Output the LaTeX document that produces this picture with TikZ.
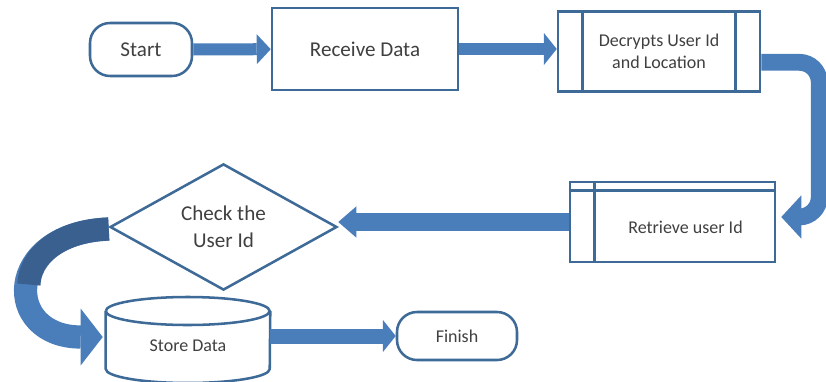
\documentclass[tikz,border=0pt]{standalone}
\usepackage{fontspec}
\setmainfont{Carlito}
\usetikzlibrary{positioning,arrows.meta,shapes.geometric}
\definecolor{flowblue}{RGB}{74,126,187}
\definecolor{flowdark}{RGB}{58,96,143}
\definecolor{edgeblue}{RGB}{62,106,152}
\definecolor{inkgray}{RGB}{64,64,64}
\tikzset{
  flowarrow/.style={draw=flowblue, line width=0.32cm, -{Triangle[length=0.32cm, width=0.8cm, line width=0pt]}},
  boxline/.style={draw=edgeblue, line width=1.8pt},
  bigtext/.style={font=\fontsize{15}{19}\selectfont},
  smalltext/.style={font=\fontsize{12.8}{16}\selectfont},
  terminal/.style={boxline, rounded corners=0.5cm, fill=white, text=inkgray, minimum width=2.55cm, minimum height=1.325cm, align=center},
  process/.style={boxline, fill=white, text=inkgray, align=center},
  decision/.style={diamond, boxline, fill=white, text=inkgray, align=center, inner sep=0pt, minimum width=5.675cm, minimum height=2.75cm},
  storebox/.style={text=inkgray, minimum width=4.1cm, minimum height=2.1cm}
}

\begin{document}
\begin{tikzpicture}
  \useasboundingbox (0,0) rectangle (20.65,-9.525);

  % top row
  \node[terminal, bigtext] (start) at (3.525,-1.2375) {Start};
  \node[process, bigtext, minimum width=4.65cm, minimum height=2.05cm] (receive) at (9.125,-1.225) {Receive Data};
  \node[process, smalltext, minimum width=5.05cm, minimum height=2cm] (decrypt) at (16.475,-1.2875) {Decrypts User Id\\and Location};
  \draw[boxline] ([xshift=0.65cm]decrypt.north west) -- ([xshift=0.65cm]decrypt.south west);
  \draw[boxline] ([xshift=-0.65cm]decrypt.north east) -- ([xshift=-0.65cm]decrypt.south east);

  % middle row
  \node[process, smalltext, minimum width=5.125cm, minimum height=2cm] (retrieve) at (16.8125,-5.55)
    {\raisebox{-0.125cm}[\height][\depth]{\hspace{0.65cm}Retrieve user Id}};
  \draw[boxline] ([yshift=-0.25cm]retrieve.north west) -- ([yshift=-0.25cm]retrieve.north east);
  \draw[boxline] ([xshift=0.65cm]retrieve.north west) -- ([xshift=0.65cm]retrieve.south west);
  \node[decision, bigtext] (check) at (5.5875,-5.675) {Check the\\User Id};

  % bottom row
  \node[storebox, smalltext] (store) at (4.7,-8.65) {Store Data};
  \draw[boxline] ([yshift=0.875cm]store.west) arc[start angle=180, end angle=-180, x radius=2.05cm, y radius=0.35cm];
  \draw[boxline] ([yshift=0.875cm]store.west) -- ([yshift=-0.575cm]store.west)
    arc[start angle=180, end angle=360, x radius=2.05cm, y radius=0.35cm] -- ([yshift=0.875cm]store.east);
  \node[terminal, smalltext, minimum width=3cm, minimum height=1.2cm] (finish) at (11.425,-8.4) {Finish};

  % connectors
  \draw[flowarrow, line width=0.3cm, -{Triangle[length=0.35cm, width=0.75cm, line width=0pt]}] (start) -- (receive);
  \draw[flowarrow] (receive.east) -- (receive.east -| decrypt.west);
  \coordinate (bend) at ([xshift=1.075cm, yshift=0.125cm]retrieve.east);
  \draw[flowarrow, line width=0.42cm, rounded corners=0.5cm, -{Triangle[length=0.5cm, width=1.08cm, line width=0pt]}]
    ([yshift=-0.27cm]decrypt.east) -| (bend) -- ([shift={(0.125,0.125)}]retrieve.east);
  \draw[flowarrow, line width=0.45cm, -{Triangle[length=0.45cm, width=0.78cm, line width=0pt]}]
    (retrieve.west) -- (retrieve.west -| check.east);
  % curved arrow, darker back side on its upper half
  \coordinate (loop) at (0.7225,-7.1125);
  \draw[flowarrow, line width=0.58cm, -{Triangle[length=0.55cm, width=1.42cm, line width=0pt]}]
    ([yshift=-0.05cm]check.west) .. controls (0.075,-5.825) and (0.075,-8.425) .. ([shift={(-0.075,0.225)}]store.west);
  \draw[flowdark, line width=0.58cm] ([yshift=-0.05cm]check.west) .. controls (1.4125,-5.775) and (0.74375,-6.45) .. (loop);
  \draw[flowarrow, line width=0.375cm] (store.east |- finish.west) -- (finish.west);
\end{tikzpicture}
\end{document}
